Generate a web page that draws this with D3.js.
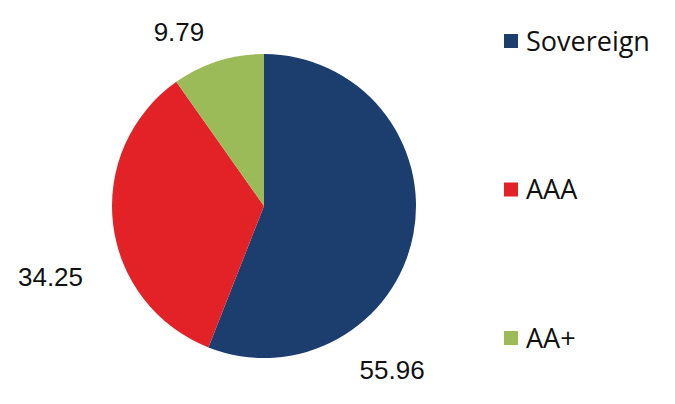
<!DOCTYPE html>
<html>
<head>
<meta charset="utf-8">
<script src="https://cdn.jsdelivr.net/npm/d3@7"></script>
<style>
  body { margin: 0; background: #fff; }
  text { fill: #111; }
  .lbl { font-family: "Liberation Sans", Arial, sans-serif; font-size: 26px; }
  .leg text { font-family: "Open Sans", "Noto Sans", sans-serif; font-size: 27px; }
</style>
</head>
<body>
<svg></svg>
<script>
// data
var categories = ['Sovereign', 'AAA', 'AA+'];
var shares = [55.96, 34.25, 9.79];
var colors = ['#1b3e6f', '#e32228', '#9bbb59'];

var width = 675, height = 404;
var cx = 264, cy = 206, radius = 152;

var svg = d3.select('svg').attr('width', width).attr('height', height);

var slices = categories.map((c, i) => ({ name: c, value: shares[i], color: colors[i] }));
var arcs = d3.pie().sort(null).value(d => d.value)(slices);
var arc = d3.arc().innerRadius(0).outerRadius(radius);

var chart = svg.append('g').attr('transform', `translate(${cx}, ${cy})`);

chart.selectAll('.slice').data(arcs).enter().append('path')
    .classed('slice', true)
    .attr('fill', d => d.data.color)
    .attr('d', arc);

// label placement (Excel "best fit" style), angle in degrees from top, distance from centre
var labelPlace = { 'Sovereign': [142, 208], 'AAA': [251.6, 225], 'AA+': [334, 194] };

chart.selectAll('.lbl').data(arcs).enter().append('text')
    .classed('lbl', true)
    .attr('transform', d => {
        var p = labelPlace[d.data.name];
        var a = p[0] * Math.PI / 180;
        return `translate(${Math.sin(a) * p[1]}, ${-Math.cos(a) * p[1]})`;
    })
    .attr('text-anchor', 'middle')
    .attr('dy', '0.35em')
    .text(d => d.data.value.toFixed(2));

// legend
var legendY = d3.scalePoint().domain(categories).range([41, 338]);
var legend = svg.append('g').selectAll('.leg').data(slices).enter().append('g')
    .classed('leg', true)
    .attr('transform', d => `translate(504, ${legendY(d.name)})`);

legend.append('rect')
    .attr('x', 0).attr('y', -7)
    .attr('width', 14).attr('height', 14)
    .attr('fill', d => d.color);

legend.append('text')
    .attr('x', 22)
    .attr('dy', '0.36em')
    .text(d => d.name);
</script>
</body>
</html>
